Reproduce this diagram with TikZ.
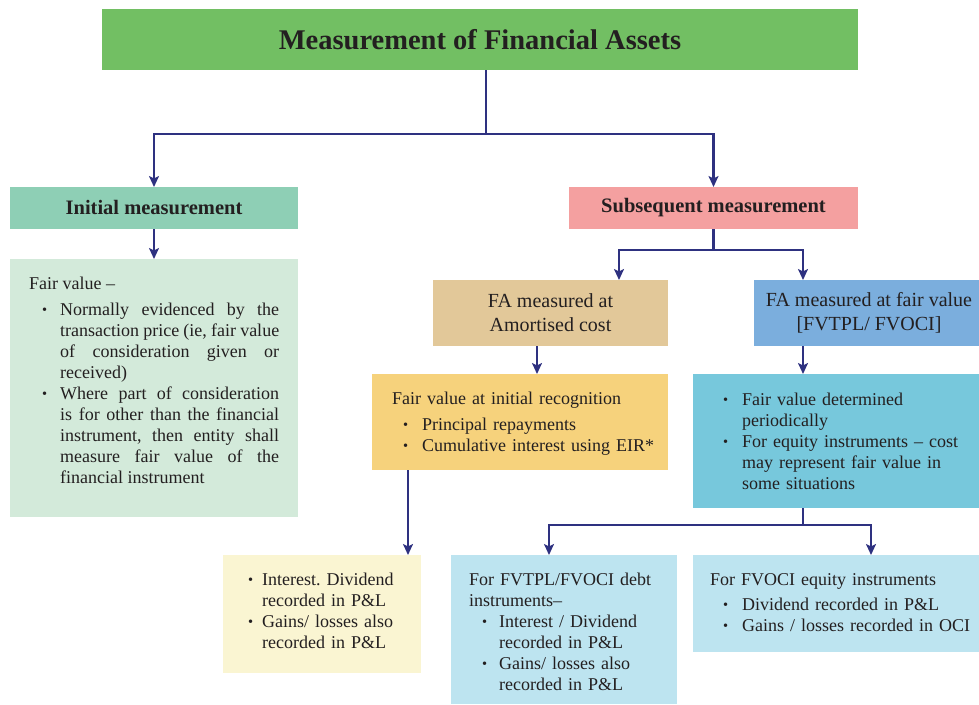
\documentclass[tikz,border=0pt]{standalone}
\usepackage{fontspec}
\setmainfont{Liberation Serif}
\usepackage{graphicx}
\usetikzlibrary{arrows.meta,calc}
\frenchspacing
\definecolor{cTitle}{RGB}{114,191,99}
\definecolor{cInit}{RGB}{142,207,181}
\definecolor{cSubs}{RGB}{244,160,160}
\definecolor{cFV}{RGB}{211,234,218}
\definecolor{cAmort}{RGB}{226,200,153}
\definecolor{cFAFV}{RGB}{123,174,221}
\definecolor{cFVInit}{RGB}{246,210,124}
\definecolor{cFVDet}{RGB}{119,200,220}
\definecolor{cBL}{RGB}{250,245,210}
\definecolor{cLB}{RGB}{189,228,240}
\definecolor{cArr}{RGB}{46,49,128}
\definecolor{cTxt}{RGB}{35,31,32}
\newcommand\smallbul{\raisebox{0.8pt}{\scalebox{0.8}{\textbullet}}}
\newcommand\bitem[2]{\leftskip=#1\noindent\llap{\makebox[#2][l]{\smallbul}}\ignorespaces}
\tikzset{
  box/.style={anchor=north west, inner sep=0pt, outer sep=0pt, text=cTxt},
  hdr/.style={font=\fontsize{20.5}{24}\selectfont\bfseries, align=center},
  sub/.style={font=\fontsize{20}{24}\selectfont, align=center},
  body/.style={anchor=base west, inner sep=0pt, text=cTxt, font=\fontsize{18}{21}\selectfont\frenchspacing, align=left},
  line/.style={draw=cArr, line width=2.2pt},
  arr/.style={line, -{Stealth[length=11pt,width=10pt,inset=2.5pt]}},
}
\begin{document}
\begin{tikzpicture}[x=1pt,y=-1pt]
\useasboundingbox (0,0) rectangle (979,704);
% boxes
\node[box, fill=cTitle, minimum width=756, minimum height=61, font=\fontsize{28.5}{30}\selectfont\bfseries] (t) at (102,9) {Measurement of Financial Assets};
\node[box, hdr, fill=cInit, minimum width=288, minimum height=42] (init) at (10,187) {Initial measurement};
\node[box, hdr, fill=cSubs, minimum width=289, minimum height=42] (subs) at (569,187) {Subsequent measurement};
\node[box, fill=cFV, minimum width=288, minimum height=258] (fv) at (10,259) {};
\node[box, sub, fill=cAmort, minimum width=235, minimum height=66] (amort) at (433,280) {FA measured at\\Amortised cost};
\node[box, sub, fill=cFAFV, minimum width=225, minimum height=66] (fafv) at (754,280) {\hspace{5pt}FA measured at fair value\\\hspace{5pt}[FVTPL/ FVOCI]};
\node[box, fill=cFVInit, minimum width=296, minimum height=96] (fvinit) at (372,374) {};
\node[box, fill=cFVDet, minimum width=286, minimum height=134] (fvdet) at (693,374) {};
\node[box, fill=cBL, minimum width=198, minimum height=118] (bl) at (223,555) {};
\node[box, fill=cLB, minimum width=226, minimum height=149] (debt) at (451,555) {};
\node[box, fill=cLB, minimum width=286, minimum height=97] (eq) at (693,555) {};
% texts
\node[body, text width=250, align=justify] (fvt) at (29,289) {Fair value --\par\vspace{5pt}%
\bitem{31pt}{18pt}Normally evidenced by the\linebreak transaction price (ie, fair value\linebreak of consideration given or\linebreak received)\par
\bitem{31pt}{18pt}Where part of consideration\linebreak is for other than the financial\linebreak instrument, then entity shall\linebreak measure fair value of the\linebreak financial instrument\par};
\node[body, text width=280] (fvinitt) at (392,404) {Fair value at initial recognition\par\vspace{5pt}%
\bitem{30pt}{19pt}Principal repayments\par
\bitem{30pt}{19pt}Cumulative interest using EIR*\par};
\node[body, text width=250] (fvdett) at (723,405) {%
\bitem{19pt}{19pt}Fair value determined\newline periodically\par
\bitem{19pt}{19pt}For equity instruments -- cost\newline may represent fair value in\newline some situations\par};
\node[body, text width=170] (blt) at (248,585) {%
\bitem{14pt}{14pt}Interest. Dividend\newline recorded in P\&L\par
\bitem{14pt}{14pt}Gains/ losses also\newline recorded in P\&L\par};
\node[body, text width=200] (debtt) at (469,585) {For FVTPL/FVOCI debt\newline instruments--\par
\bitem{30pt}{17pt}Interest / Dividend\newline recorded in P\&L\par
\bitem{30pt}{17pt}Gains/ losses also\newline recorded in P\&L\par};
\node[body, text width=265] (eqt) at (710,585) {For FVOCI equity instruments\par\vspace{4pt}%
\bitem{32pt}{19pt}Dividend recorded in P\&L\par
\bitem{32pt}{19pt}Gains / losses recorded in OCI\par};
% connectors
\draw[line] ([xshift=6pt]t.south) -- ++(0,64) coordinate (j1);
\draw[arr] (j1) -| (init.north);
\draw[arr] (j1) -| (subs.north);
\draw[arr] (init.south) -- (fv.north);
\draw[line] (subs.south) -- ++(0,21) coordinate (j2);
\draw[arr] (j2) -| ([xshift=68.5pt]amort.north);
\draw[arr] (j2) -| ([xshift=-63.5pt]fafv.north);
\draw[arr] ([xshift=-13.5pt]amort.south) -- ([xshift=-13.5pt]amort.south |- fvinit.north);
\draw[arr] ([xshift=-63.5pt]fafv.south) -- ([xshift=-63.5pt]fafv.south |- fvdet.north);
\draw[arr] ([xshift=-112pt]fvinit.south) -- ([xshift=-112pt]fvinit.south |- bl.north);
\draw[line] ([xshift=-33pt]fvdet.south) -- ++(0,17) coordinate (j3);
\draw[arr] (j3) -| ([xshift=-15pt]debt.north);
\draw[arr] (j3) -| ([xshift=35pt]eq.north);
\end{tikzpicture}
\end{document}
